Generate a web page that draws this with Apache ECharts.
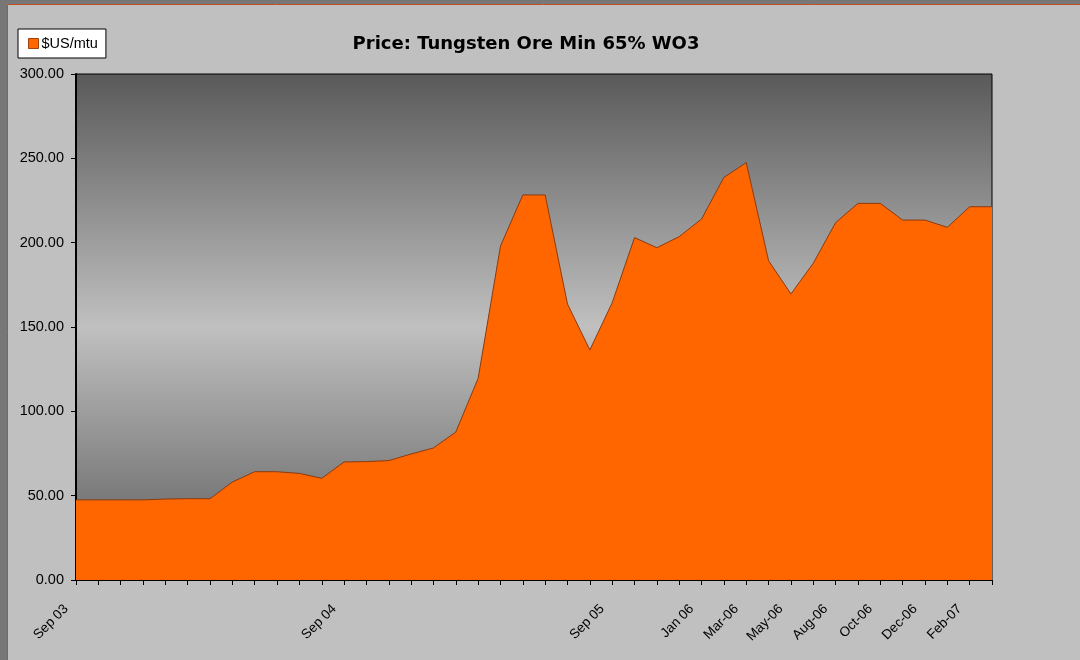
<!DOCTYPE html>
<html>
<head>
<meta charset="utf-8">
<script src="https://cdn.jsdelivr.net/npm/echarts@6/dist/echarts.min.js"></script>
<style>
html,body{margin:0;padding:0;background:#C0C0C0;}
#chart{width:1080px;height:660px;}
</style>
</head>
<body>
<div id="chart"></div>
<script>
const categories = [
  "Sep 03","Oct 03","Nov 03","Dec 03","Jan 04","Feb 04","Mar 04","Apr 04","May 04","Jun 04","Jul 04","Aug 04",
  "Sep 04","Oct 04","Nov 04","Dec 04","Jan 05","Feb 05","Mar 05","Apr 05","May 05","Jun 05","Jul 05","Aug 05",
  "Sep 05","Oct 05","Nov 05","Dec 05","Jan 06","Feb-06","Mar-06","Apr-06","May-06","Jul-06","Aug-06","Sep-06",
  "Oct-06","Nov-06","Dec-06","Jan-07","Feb-07","Mar-07"
];
const shownLabels = ["Sep 03","Sep 04","Sep 05","Jan 06","Mar-06","May-06","Aug-06","Oct-06","Dec-06","Feb-07"];
const priceUSmtu = [
  47.5, 47.5, 47.5, 47.5, 48.0, 48.2, 48.2, 58.1, 64.2, 64.2, 63.2, 60.3,
  70.0, 70.2, 70.8, 74.7, 78.3, 87.7, 119.6, 198.0, 228.3, 228.3, 163.6, 136.4,
  164.4, 203.0, 197.0, 203.6, 214.0, 238.7, 247.4, 189.3, 169.6, 187.8, 211.9, 223.3,
  223.3, 213.4, 213.4, 209.1, 221.3, 221.3
];
const yTicks = [0, 50, 100, 150, 200, 250, 300];
const seriesName = "$US/mtu";
const titleText = "Price: Tungsten Ore Min 65% WO3";

const chart = echarts.init(document.getElementById('chart'), null, {renderer:'canvas'});
const font = "'Liberation Sans', Arial, sans-serif";
chart.setOption({
  animation: false,
  backgroundColor: '#C0C0C0',
  graphic: [
    {type:'rect', shape:{x:0,y:0,width:1080,height:4}, style:{fill:'#777777'}, z:-1},
    {type:'rect', shape:{x:0,y:0,width:7,height:660}, style:{fill:'#777777'}, z:-1},
    {type:'line', shape:{x1:7.5,y1:4.5,x2:1080,y2:4.5}, style:{stroke:'#C0501F', lineWidth:1}, z:-1},
    {type:'line', shape:{x1:7.5,y1:4.5,x2:7.5,y2:660}, style:{stroke:'#C0501F', lineWidth:1}, z:-1}
  ],
  title: {
    text: titleText,
    left: 521, top: 30, textAlign: 'center',
    textStyle: {fontFamily: "'DejaVu Sans', Verdana, sans-serif", fontWeight: 'bold', fontSize: 18, color: '#000'}
  },
  legend: {
    left: 18, top: 29,
    backgroundColor: '#FFFFFF', borderColor: '#000', borderWidth: 1,
    padding: [7, 8, 7, 10],
    itemWidth: 10, itemHeight: 10, itemGap: 4,
    icon: 'rect',
    textStyle: {fontFamily: font, fontSize: 14.5, color: '#000', padding:[0,0,0,-2]},
    data: [{name: seriesName, itemStyle: {color:'#FF6600', borderColor:'#A0400A', borderWidth:1}}]
  },
  grid: {
    left: 76, top: 74, right: 88, bottom: 80,
    show: true,
    borderColor: '#000', borderWidth: 1,
    backgroundColor: new echarts.graphic.LinearGradient(0,0,0,1,[
      {offset:0, color:'#595959'},
      {offset:0.5, color:'#C0C0C0'},
      {offset:1, color:'#595959'}
    ])
  },
  xAxis: {
    type: 'category',
    data: categories,
    boundaryGap: false,
    axisLine: {show:true, lineStyle:{color:'#000', width:1}},
    axisTick: {show:true, interval:0, length:5, lineStyle:{color:'#000'}},
    axisLabel: {
      interval: function(idx, val){ return shownLabels.indexOf(val) >= 0; },
      rotate: 45, fontFamily: font, fontSize: 13.5, color: '#000', margin: 17,
      padding: [0, 14, 0, 0]
    },
    splitLine: {show:false}
  },
  yAxis: {
    type: 'value',
    min: yTicks[0], max: yTicks[yTicks.length-1], interval: 50,
    axisLine: {show:true, lineStyle:{color:'#000', width:2}},
    axisTick: {show:true, length:5, lineStyle:{color:'#000'}},
    axisLabel: {fontFamily: font, fontSize: 14.5, color:'#000', margin: 12,
      formatter: v => v.toFixed(2)},
    splitLine: {show:false}
  },
  series: [{
    name: seriesName,
    type: 'line',
    data: priceUSmtu,
    symbol: 'none',
    lineStyle: {color:'#8B3A0F', width:1},
    areaStyle: {color:'#FF6600', opacity:1},
    itemStyle: {color:'#FF6600'}
  }]
});
</script>
</body>
</html>
